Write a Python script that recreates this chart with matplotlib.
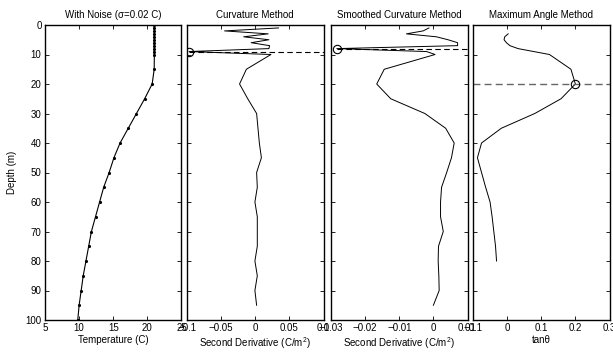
import numpy as np
import matplotlib
matplotlib.use('Agg')
import matplotlib.pyplot as plt

plt.rcParams['font.family'] = ['Liberation Sans', 'DejaVu Sans']
plt.rcParams['font.size'] = 7
plt.rcParams['mathtext.fontset'] = 'custom'
plt.rcParams['mathtext.rm'] = 'Liberation Sans'
plt.rcParams['mathtext.it'] = 'Liberation Sans:italic'

# ---- data ----
# temperature profile with noise
temp_depth = [0, 1, 2, 3, 4, 5, 6, 7, 8, 9, 10, 15, 20, 25, 30, 35, 40, 45, 50,
              55, 60, 65, 70, 75, 80, 85, 90, 95, 100]
temp = [21.01, 20.98, 21.02, 20.99, 21.0, 21.03, 20.97, 21.01, 21.0, 20.98, 21.02,
        21.0, 20.7, 19.6, 18.4, 17.2, 16.0, 15.1, 14.4,
        13.6, 13.0, 12.4, 11.8, 11.4, 11.0, 10.6, 10.3, 10.0, 9.8]

# curvature method (second derivative)
curv_depth = [1, 2, 3, 4, 5, 6, 7, 8, 9, 10, 15, 20, 25, 30, 35, 40, 45, 50,
              55, 60, 65, 70, 75, 80, 85, 90, 95]
curv = [0.034, -0.045, 0.019, -0.017, 0.02, -0.006, 0.021, 0.02, -0.097, 0.023,
        -0.013, -0.023, -0.011, 0.002, 0.004, 0.006, 0.009, 0.002,
        0.003, -0.0005, 0.003, 0.003, 0.003, -0.0005, 0.003, -0.0005, 0.002]
curv_mld = 9

# smoothed curvature method
smooth_depth = curv_depth
smooth = [-0.0013, -0.003, -0.0079, 0.0009, 0.0043, 0.0071, 0.0071, -0.0283, -0.002, 0.0005,
          -0.0144, -0.0166, -0.0125, -0.0025, 0.0036, 0.0061, 0.0053, 0.0039,
          0.0024, 0.0021, 0.0021, 0.0029, 0.0015, 0.0014, 0.0016, 0.0017, 0.0]
smooth_mld = 8

# maximum angle method
angle_depth = [3, 4, 5, 6, 7, 8, 10, 15, 20, 25, 30, 35, 40, 45, 50,
               55, 60, 65, 70, 75, 80]
angle = [0.003, -0.007, -0.009, -0.002, 0.008, 0.032, 0.124, 0.187, 0.2, 0.158, 0.081,
         -0.017, -0.075, -0.087, -0.075, -0.063, -0.05, -0.044, -0.039, -0.034, -0.031]
angle_mld = 20

titles = ['With Noise (\u03c3=0.02 C)', 'Curvature Method',
          'Smoothed Curvature Method', 'Maximum Angle Method']
xlabels = ['Temperature (C)', 'Second Derivative (C/m$^2$)',
           'Second Derivative (C/m$^2$)', 'tan\u03b8']
xlims = [(5, 25), (-0.1, 0.1), (-0.03, 0.01), (-0.1, 0.3)]
xticks = [[5, 10, 15, 20, 25], [-0.1, -0.05, 0, 0.05, 0.1],
          [-0.03, -0.02, -0.01, 0, 0.01], [-0.1, 0, 0.1, 0.2, 0.3]]
xticklabels = [['5', '10', '15', '20', '25'], ['\u22120.1', '\u22120.05', '0', '0.05', '0.1'],
               ['\u22120.03', '\u22120.02', '\u22120.01', '0', '0.01'],
               ['\u22120.1', '0', '0.1', '0.2', '0.3']]

fig = plt.figure(figsize=(6.13, 3.54), dpi=100)
lefts = [45, 187, 331, 473]
axes = []
for l in lefts:
    ax = fig.add_axes([l / 613, 1 - 320 / 354, 136.5 / 613, 295 / 354])
    axes.append(ax)

# panel 1
ax = axes[0]
ax.plot(temp, temp_depth, 'k-', lw=0.8, marker='.', ms=2.5)
ax.set_ylabel('Depth (m)', labelpad=6)

# panel 2
ax = axes[1]
ax.plot(curv, curv_depth, 'k-', lw=0.7)
xmin = curv[curv_depth.index(curv_mld)]
ax.plot([xmin, 0.1], [curv_mld, curv_mld], 'k--', lw=0.8, dashes=(5, 3))
ax.plot(xmin, curv_mld, 'o', mfc='none', mec='k', ms=6, mew=0.8)

# panel 3
ax = axes[2]
ax.plot(smooth, smooth_depth, 'k-', lw=0.7)
xmin = smooth[smooth_depth.index(smooth_mld)]
ax.plot([xmin, 0.01], [smooth_mld, smooth_mld], 'k--', lw=0.8, dashes=(5, 3))
ax.plot(xmin, smooth_mld, 'o', mfc='none', mec='k', ms=6, mew=0.8)

# panel 4
ax = axes[3]
ax.plot(angle, angle_depth, 'k-', lw=0.7)
ax.axhline(angle_mld, color='0.4', ls='--', lw=1.0, dashes=(5, 3))
xmax = angle[angle_depth.index(angle_mld)]
ax.plot(xmax, angle_mld, 'o', mfc='none', mec='k', ms=6, mew=0.8)

for i, ax in enumerate(axes):
    ax.set_xlim(*xlims[i])
    ax.set_ylim(100, 0)
    ax.set_xticks(xticks[i])
    ax.set_xticklabels(xticklabels[i])
    ax.set_yticks(np.arange(0, 101, 10))
    if i > 0:
        ax.set_yticklabels([])
    ax.tick_params(direction='in', top=True, right=True, length=3, width=0.6, pad=2.5)
    ax.set_title(titles[i], fontsize=7, pad=5)
    ax.set_xlabel(xlabels[i], labelpad=1)
    for s in ax.spines.values():
        s.set_linewidth(1.0)

fig.savefig('out.png', dpi=100)
